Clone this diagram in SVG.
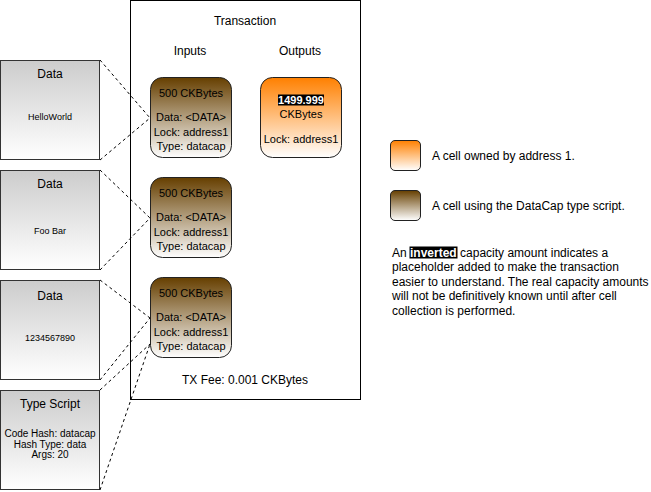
<svg xmlns="http://www.w3.org/2000/svg" width="651" height="492" viewBox="0 0 651 492">
  <defs>
    <linearGradient id="gGray" x1="0" y1="0" x2="0" y2="1">
      <stop offset="0" stop-color="#cccccc"/>
      <stop offset="1" stop-color="#ffffff"/>
    </linearGradient>
    <linearGradient id="gBrown" x1="0" y1="0" x2="0" y2="1">
      <stop offset="0" stop-color="#663f00"/>
      <stop offset="1" stop-color="#ffffff"/>
    </linearGradient>
    <linearGradient id="gOrange" x1="0" y1="0" x2="0" y2="1">
      <stop offset="0" stop-color="#ff8000"/>
      <stop offset="1" stop-color="#ffffff"/>
    </linearGradient>
  </defs>
  <style>
    text { font-family: "Liberation Sans", Arial, Helvetica, sans-serif; fill: #000; }
    .t12 { font-size: 12px; }
    .t11 { font-size: 11px; }
    .t10 { font-size: 10px; }
    .t9 { font-size: 9px; }
    .mid { text-anchor: middle; }
    .box { fill: url(#gGray); stroke: #333; stroke-width: 1; }
    .brown { fill: url(#gBrown); stroke: #222; stroke-width: 1; }
    .orange { fill: url(#gOrange); stroke: #222; stroke-width: 1; }
    .frame { fill: #fff; stroke: #000; stroke-width: 1; }
    .link { stroke: #000; stroke-width: 1; stroke-dasharray: 3 3; fill: none; }
    .inv { fill: #000; }
    .invtxt { fill: #fff; font-weight: bold; }
  </style>

  <!-- transaction container -->
  <g id="transaction">
    <rect class="frame" x="130.5" y="0.5" width="230" height="399"/>
    <text class="t12 mid" x="245" y="24.5">Transaction</text>
    <text class="t12 mid" x="190" y="54.5">Inputs</text>
    <text class="t12 mid" x="300" y="54.5">Outputs</text>
    <text class="t12 mid" x="245" y="384">TX Fee: 0.001 CKBytes</text>
  </g>

  <!-- data / script source boxes -->
  <g id="data-helloworld">
    <rect class="box" x="0.5" y="60.5" width="99" height="99"/>
    <text class="t12 mid" x="50" y="77.5">Data</text>
    <text class="t9 mid" x="50" y="120">HelloWorld</text>
  </g>
  <g id="data-foobar">
    <rect class="box" x="0.5" y="170.5" width="99" height="99"/>
    <text class="t12 mid" x="50" y="187.5">Data</text>
    <text class="t9 mid" x="50" y="234">Foo Bar</text>
  </g>
  <g id="data-numbers">
    <rect class="box" x="0.5" y="280.5" width="99" height="99"/>
    <text class="t12 mid" x="50" y="300">Data</text>
    <text class="t9 mid" x="50" y="341">1234567890</text>
  </g>
  <g id="type-script">
    <rect class="box" x="0.5" y="390.5" width="99" height="99"/>
    <text class="t12 mid" x="50" y="407.5">Type Script</text>
    <text class="t10 mid" x="50" y="437">Code Hash: datacap</text>
    <text class="t10 mid" x="50" y="447.5">Hash Type: data</text>
    <text class="t10 mid" x="50" y="458">Args: 20</text>
  </g>

  <!-- input cells -->
  <g id="input-1">
    <rect class="brown" x="150.5" y="77.5" width="81" height="80" rx="12" ry="12"/>
    <text class="t11 mid" x="191" y="96.5">500 CKBytes</text>
    <text class="t11 mid" x="191" y="121">Data: &lt;DATA&gt;</text>
    <text class="t11 mid" x="191" y="135.5">Lock: address1</text>
    <text class="t11 mid" x="191" y="150">Type: datacap</text>
  </g>
  <g id="input-2">
    <rect class="brown" x="150.5" y="177.5" width="81" height="80" rx="12" ry="12"/>
    <text class="t11 mid" x="191" y="196.5">500 CKBytes</text>
    <text class="t11 mid" x="191" y="221">Data: &lt;DATA&gt;</text>
    <text class="t11 mid" x="191" y="235.5">Lock: address1</text>
    <text class="t11 mid" x="191" y="250">Type: datacap</text>
  </g>
  <g id="input-3">
    <rect class="brown" x="150.5" y="277.5" width="81" height="80" rx="12" ry="12"/>
    <text class="t11 mid" x="191" y="296.5">500 CKBytes</text>
    <text class="t11 mid" x="191" y="321">Data: &lt;DATA&gt;</text>
    <text class="t11 mid" x="191" y="335.5">Lock: address1</text>
    <text class="t11 mid" x="191" y="350">Type: datacap</text>
  </g>

  <!-- output cell -->
  <g id="output-1">
    <rect class="orange" x="260.5" y="77.5" width="81" height="80" rx="12" ry="12"/>
    <rect class="inv" x="278" y="94.5" width="46" height="11"/>
    <text class="t11 mid invtxt" x="301" y="104">1499.999</text>
    <text class="t11 mid" x="301" y="117.5">CKBytes</text>
    <text class="t11 mid" x="301" y="142.5">Lock: address1</text>
  </g>

  <!-- dashed links from sources to input cells -->
  <g id="connectors">
    <path class="link" d="M100 60 L150 118 M100 160 L150 118"/>
    <path class="link" d="M100 170 L150 218 M100 270 L150 218"/>
    <path class="link" d="M100 280 L150 318 M100 380 L150 318"/>
    <path class="link" d="M100 390 L150 344 M100 490 L150 344"/>
  </g>

  <!-- legend -->
  <g id="legend-owned">
    <rect class="orange" x="390.5" y="140.5" width="30" height="30" rx="4.5" ry="4.5"/>
    <text class="t12" x="432" y="159.5">A cell owned by address 1.</text>
  </g>
  <g id="legend-datacap">
    <rect class="brown" x="390.5" y="190.5" width="30" height="30" rx="4.5" ry="4.5"/>
    <text class="t12" x="432" y="209.5">A cell using the DataCap type script.</text>
  </g>
  <g id="legend-note">
    <rect class="inv" x="409.5" y="246.5" width="48" height="12"/>
    <text class="t12" x="392" y="256.5">An <tspan class="invtxt">inverted</tspan> capacity amount indicates a</text>
    <text class="t12" x="392" y="271">placeholder added to make the transaction</text>
    <text class="t12" x="392" y="285.5">easier to understand. The real capacity amounts</text>
    <text class="t12" x="392" y="300">will not be definitively known until after cell</text>
    <text class="t12" x="392" y="314.5">collection is performed.</text>
  </g>
</svg>
